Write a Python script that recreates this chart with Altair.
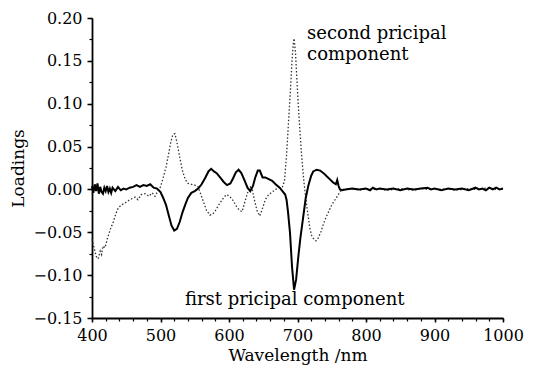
import altair as alt
import pandas as pd

# First principal component (solid)
wl1 = [400, 402, 404, 406, 408, 410, 412, 414, 416, 418, 420, 422, 424, 426, 428, 430,
       434, 438, 442, 446, 450, 455, 460, 465, 470, 475, 480, 485, 490, 495, 500, 504,
       508, 512, 516, 520, 524, 528, 532, 536, 540, 545, 550, 555, 560, 565, 570, 574,
       578, 582, 587, 592, 597, 602, 606, 610, 614, 618, 623, 627, 631, 635, 638, 642,
       645, 649, 653, 658, 663, 668, 674, 678, 682, 684, 686, 689, 692, 695, 698, 701,
       704, 708, 712, 716, 720, 723, 728, 733, 738, 743, 747, 752, 756, 758, 760, 762,
       765, 770, 780, 790, 800, 806, 810, 815, 820, 830, 840, 850, 860, 870, 880, 890,
       895, 900, 910, 920, 930, 940, 950, 960, 965, 970, 975, 980, 985, 990, 995, 1000]
pc1 = [0.004, -0.004, 0.006, -0.002, 0.007, -0.005, 0.003, -0.003, -0.005, 0.002, -0.002,
       0.004, -0.003, 0.001, -0.004, 0.002, -0.002, 0.003, -0.001, 0.001, 0.000, 0.002,
       0.003, 0.005, 0.003, 0.005, 0.004, 0.006, 0.002, 0.001, -0.003, -0.010, -0.018,
       -0.030, -0.042, -0.048, -0.046, -0.038, -0.027, -0.018, -0.010, -0.004, -0.002,
       0.001, 0.006, 0.013, 0.021, 0.024, 0.021, 0.019, 0.014, 0.009, 0.005, 0.007, 0.013,
       0.020, 0.023, 0.019, 0.010, 0.002, -0.002, 0.004, 0.013, 0.022, 0.022, 0.014, 0.014,
       0.012, 0.010, 0.006, 0.002, -0.002, -0.006, -0.012, -0.025, -0.050, -0.090, -0.117,
       -0.105, -0.080, -0.058, -0.034, -0.010, 0.005, 0.016, 0.021, 0.023, 0.022, 0.019,
       0.015, 0.012, 0.008, 0.006, 0.011, 0.004, 0.000, -0.001, 0.000, 0.001, 0.000, 0.001,
       -0.001, 0.002, 0.000, 0.001, 0.000, 0.001, -0.001, 0.001, 0.000, 0.001, 0.002, 0.000,
       0.001, -0.001, 0.001, 0.000, 0.001, -0.001, 0.002, 0.000, 0.001, -0.001, 0.002, 0.000,
       0.002, 0.000, 0.001]

# Second principal component (dotted)
wl2 = [400, 403, 406, 409, 412, 414, 416, 419, 423, 427, 431, 435, 438, 443, 448, 455,
       463, 467, 472, 478, 483, 488, 492, 496, 500, 504, 508, 512, 515, 518, 521, 524,
       528, 532, 536, 540, 545, 550, 555, 559, 563, 567, 572, 576, 580, 585, 590, 596,
       601, 606, 611, 615, 619, 623, 627, 631, 634, 637, 641, 645, 649, 653, 658, 663,
       668, 673, 678, 681, 684, 687, 690, 692, 694, 695, 697, 699, 701, 703, 706, 709,
       712, 715, 718, 721, 724, 727, 730, 734, 738, 742, 746, 750, 754, 758, 762, 765,
       770, 780, 790, 800, 810, 820, 830, 840, 850, 860, 870, 880, 890, 900, 910, 920,
       930, 940, 950, 960, 970, 980, 990, 1000]
pc2 = [-0.058, -0.068, -0.078, -0.081, -0.072, -0.076, -0.066, -0.068, -0.056, -0.046,
       -0.038, -0.028, -0.022, -0.018, -0.016, -0.012, -0.009, -0.012, -0.006, -0.005,
       -0.008, -0.004, -0.008, -0.002, 0.003, 0.014, 0.026, 0.042, 0.055, 0.064, 0.065,
       0.055, 0.038, 0.022, 0.012, 0.007, 0.006, 0.005, 0.003, -0.006, -0.015, -0.024,
       -0.030, -0.029, -0.025, -0.018, -0.012, -0.006, -0.008, -0.013, -0.020, -0.024,
       -0.026, -0.015, -0.004, 0.003, 0.000, -0.012, -0.025, -0.031, -0.022, -0.012,
       -0.006, -0.003, 0.000, 0.002, 0.003, 0.010, 0.040, 0.080, 0.120, 0.150, 0.172,
       0.176, 0.160, 0.130, 0.100, 0.075, 0.040, 0.012, -0.010, -0.028, -0.045, -0.055,
       -0.058, -0.060, -0.057, -0.050, -0.040, -0.032, -0.025, -0.018, -0.013, -0.008,
       -0.003, 0.000, 0.000, 0.001, -0.001, 0.001, 0.000, 0.001, -0.001, 0.000, 0.001,
       0.000, -0.001, 0.001, 0.000, 0.001, 0.000, 0.001, -0.001, 0.000, 0.001, 0.000,
       0.001, 0.002, 0.000, 0.001]

x_major = [400, 500, 600, 700, 800, 900, 1000]
x_minor = list(range(400, 1001, 20))
y_major = [-0.15, -0.10, -0.05, 0.00, 0.05, 0.10, 0.15, 0.20]
y_minor = [round(-0.15 + 0.025 * i, 3) for i in range(15)]

labels = ["second pricipal\ncomponent", "first pricipal component"]
label_x = [714, 696]
label_y = [0.181, -0.129]
label_align = ["left", "center"]

FONT = "DejaVu Serif"

df1 = pd.DataFrame({"wl": wl1, "v": pc1})
df2 = pd.DataFrame({"wl": wl2, "v": pc2})
dfl = pd.DataFrame({"wl": label_x, "v": label_y, "t": labels, "a": label_align})

xscale = alt.Scale(domain=[400, 1000], nice=False, zero=False)
yscale = alt.Scale(domain=[-0.15, 0.20], nice=False, zero=False)

xaxis = alt.Axis(values=x_major, format="d", title="Wavelength /nm", grid=False,
                 orient="bottom", tickSize=4, tickWidth=1.5, labelPadding=5,
                 titlePadding=4, domainWidth=1.8,
                 domainColor="black", tickColor="black", labelColor="black",
                 labelFont=FONT, labelFontSize=16, titleFont=FONT, titleFontSize=17,
                 titleFontWeight="normal", labelFlush=False, titleColor="black")
yaxis = alt.Axis(values=y_major, format=".2f", title="Loadings", grid=False,
                 orient="left", tickSize=5, tickWidth=1.5, labelPadding=5,
                 titlePadding=5, domainWidth=1.8,
                 domainColor="black", tickColor="black", labelColor="black",
                 labelFont=FONT, labelFontSize=16, titleFont=FONT, titleFontSize=17,
                 titleFontWeight="normal", labelFlush=False, titleColor="black")

# layer carrying the main axes
main_axes = alt.Chart(df1).mark_point(opacity=0).encode(
    x=alt.X("wl:Q", scale=xscale, axis=xaxis),
    y=alt.Y("v:Q", scale=yscale, axis=yaxis),
)

# layer carrying the minor ticks
minor = alt.Chart(df1).mark_point(opacity=0).encode(
    x=alt.X("wl:Q", scale=xscale,
            axis=alt.Axis(values=x_minor, labels=False, domain=False, grid=False,
                          tickSize=3, tickWidth=1.2, tickColor="black", title="",
                          orient="bottom")),
    y=alt.Y("v:Q", scale=yscale,
            axis=alt.Axis(values=y_minor, labels=False, domain=False, grid=False,
                          tickSize=3, tickWidth=1.2, tickColor="black", title="",
                          orient="left")),
)

line2 = alt.Chart(df2).mark_line(color="#333333", strokeWidth=1.3,
                                 strokeDash=[1.5, 2]).encode(
    x=alt.X("wl:Q", scale=xscale, axis=None),
    y=alt.Y("v:Q", scale=yscale, axis=None),
)

line1 = alt.Chart(df1).mark_line(color="black", strokeWidth=2).encode(
    x=alt.X("wl:Q", scale=xscale, axis=None),
    y=alt.Y("v:Q", scale=yscale, axis=None),
)

text_left = alt.Chart(dfl[dfl["a"] == "left"]).mark_text(
    font=FONT, fontSize=18, align="left", baseline="middle", lineBreak="\n",
    lineHeight=21, color="black").encode(
    x=alt.X("wl:Q", scale=xscale, axis=None),
    y=alt.Y("v:Q", scale=yscale, axis=None), text="t:N")

text_center = alt.Chart(dfl[dfl["a"] == "center"]).mark_text(
    font=FONT, fontSize=18, align="center", baseline="middle",
    color="black").encode(
    x=alt.X("wl:Q", scale=xscale, axis=None),
    y=alt.Y("v:Q", scale=yscale, axis=None), text="t:N")

chart = alt.layer(main_axes, minor, line2, line1, text_left, text_center).resolve_axis(
    x="independent", y="independent"
).properties(
    width=411, height=300,
    autosize=alt.AutoSizeParams(type="none"),
    padding={"left": 84, "top": 10, "right": 23, "bottom": 48},
    background="white",
).configure_view(stroke=None)

chart.save("out.html", embed_options={"renderer": "svg", "actions": False})
